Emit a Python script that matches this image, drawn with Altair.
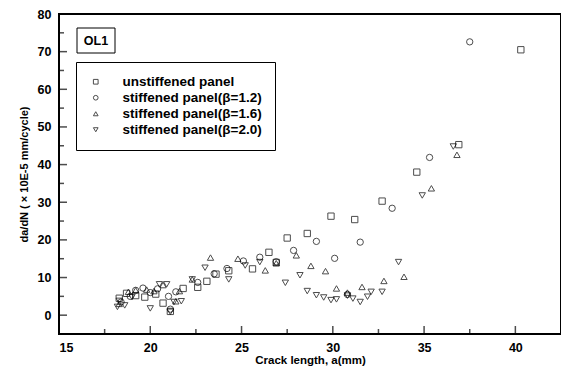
import altair as alt
import pandas as pd

series_names = ["unstiffened panel", "stiffened panel(β=1.2)",
                "stiffened panel(β=1.6)", "stiffened panel(β=2.0)"]
series_shapes = ["square", "circle", "triangle-up", "triangle-down"]

unstiff_x = [18.3, 18.7, 19.2, 19.7, 20.3, 20.7, 21.1, 21.8, 22.6, 23.1, 23.6, 24.3,
             25.6, 26.5, 26.9, 27.5, 28.6, 29.9, 31.2, 32.7, 34.6, 36.9, 40.3]
unstiff_y = [4.5, 5.8, 5.2, 4.8, 5.6, 3.2, 1.0, 7.1, 7.4, 9.0, 10.9, 11.8,
             12.3, 16.7, 14.0, 20.5, 21.7, 26.3, 25.4, 30.3, 38.0, 45.3, 70.5]

b12_x = [18.4, 18.9, 19.2, 19.6, 20.0, 20.4, 21.0, 21.1, 21.4, 22.6, 23.5, 24.2,
         25.1, 26.0, 26.9, 27.85, 29.1, 30.1, 30.8, 31.5, 33.25, 35.3, 37.5]
b12_y = [3.5, 5.0, 6.6, 7.2, 6.0, 7.0, 5.0, 1.6, 6.2, 8.7, 11.0, 12.4,
         14.4, 15.4, 14.2, 17.2, 19.6, 15.1, 5.5, 19.4, 28.4, 41.9, 72.6]

b16_x = [18.3, 18.8, 19.2, 19.8, 20.2, 20.7, 21.4, 21.6, 22.3, 23.3, 24.8, 26.3,
         26.9, 28.0, 28.8, 29.6, 30.2, 30.8, 31.6, 32.8, 33.9, 35.4, 36.8]
b16_y = [3.0, 6.2, 6.6, 6.8, 6.4, 8.0, 3.7, 6.4, 9.5, 15.3, 15.0, 11.9,
         13.8, 15.9, 13.1, 11.7, 7.1, 6.0, 7.5, 9.1, 10.2, 33.7, 42.6]

b20_x = [18.2, 18.3, 18.6, 19.0, 20.0, 20.5, 20.9, 21.1, 21.3, 21.7, 22.3, 23.0,
         24.3, 25.2, 26.0, 27.4, 28.2, 28.6, 29.1, 29.5, 29.9, 30.2, 30.8, 31.1,
         31.5, 31.9, 32.1, 32.7, 33.6, 34.9, 36.6]
b20_y = [2.2, 3.8, 2.6, 4.8, 1.8, 8.2, 8.2, 0.9, 3.5, 3.7, 9.5, 12.6,
         9.5, 13.2, 14.1, 8.6, 10.6, 6.4, 5.3, 4.7, 4.0, 4.2, 5.2, 4.4,
         3.5, 4.9, 6.2, 6.2, 14.1, 31.8, 44.8]

x_major = [15, 20, 25, 30, 35, 40]
x_minor = [17.5, 22.5, 27.5, 32.5, 37.5]
y_major = [0, 10, 20, 30, 40, 50, 60, 70, 80]
y_minor = [5, 15, 25, 35, 45, 55, 65, 75]
x_edges = [15, 42.5]
y_edges = [-5, 80]

rows = []
for name, xs, ys in zip(series_names, [unstiff_x, b12_x, b16_x, b20_x],
                        [unstiff_y, b12_y, b16_y, b20_y]):
    rows += [{"series": name, "a": x, "rate": y} for x, y in zip(xs, ys)]
df = pd.DataFrame(rows)

W, H = 502, 320
FONT = "Liberation Sans"
x_scale = alt.Scale(domain=x_edges, nice=False, zero=False)
y_scale = alt.Scale(domain=y_edges, nice=False, zero=False)

x_axis = alt.Axis(values=x_major, title="Crack length, a(mm)", grid=False, domain=False,
                  ticks=False, tickSize=0, labelPadding=7, labelFontSize=12.5,
                  labelFontWeight="bold", labelFont=FONT, titleFont=FONT,
                  titleFontSize=11.5, titleFontWeight="bold", titlePadding=1,
                  labelColor="black", titleColor="black")
y_axis = alt.Axis(values=y_major, title="da/dN ( × 10E-5 mm/cycle)", grid=False, domain=False,
                  ticks=False, tickSize=0, labelPadding=8, labelFontSize=12.5,
                  labelFontWeight="bold", labelFont=FONT, titleFont=FONT,
                  titleFontSize=11, titleFontWeight="bold", titlePadding=8,
                  labelColor="black", titleColor="black")

points = alt.Chart(df).mark_point(filled=False, color="black", size=40, strokeWidth=1).encode(
    x=alt.X("a:Q", scale=x_scale, axis=x_axis),
    y=alt.Y("rate:Q", scale=y_scale, axis=y_axis),
    shape=alt.Shape("series:N",
                    scale=alt.Scale(domain=series_names, range=series_shapes),
                    legend=alt.Legend(title=None, orient="none", legendX=17, legendY=48,
                                      strokeColor="black", padding=13,
                                      fillColor="white",
                                      labelFont=FONT, labelFontSize=13.5, labelFontWeight="bold",
                                      labelColor="black", symbolSize=22,
                                      symbolStrokeColor="black", symbolStrokeWidth=1,
                                      symbolFillColor="transparent",
                                      rowPadding=1, labelOffset=20)),
)

ymaj = alt.Chart(pd.DataFrame({"rate": y_major})).mark_tick(
    color="black", thickness=1.5, size=8, orient="horizontal").encode(
    y=alt.Y("rate:Q", scale=y_scale, axis=y_axis), x=alt.value(4))
ymin = alt.Chart(pd.DataFrame({"rate": y_minor})).mark_tick(
    color="black", thickness=1.5, size=5, orient="horizontal").encode(
    y=alt.Y("rate:Q", scale=y_scale, axis=y_axis), x=alt.value(2.5))
xmaj = alt.Chart(pd.DataFrame({"a": x_major})).mark_tick(
    color="black", thickness=1.5, size=8, orient="vertical").encode(
    x=alt.X("a:Q", scale=x_scale, axis=x_axis), y=alt.value(H - 4))
xmin = alt.Chart(pd.DataFrame({"a": x_minor})).mark_tick(
    color="black", thickness=1.5, size=5, orient="vertical").encode(
    x=alt.X("a:Q", scale=x_scale, axis=x_axis), y=alt.value(H - 2.5))

frame = alt.Chart(pd.DataFrame({"a": [x_edges[0]], "a2": [x_edges[1]],
                                "rate": [y_edges[0]], "rate2": [y_edges[1]]})).mark_rect(
    fillOpacity=0, stroke="black", strokeWidth=2).encode(
    x=alt.X("a:Q", scale=x_scale, axis=x_axis), x2="a2:Q",
    y=alt.Y("rate:Q", scale=y_scale, axis=y_axis), y2="rate2:Q")

label_box = alt.Chart(pd.DataFrame({"t": ["OL1"]})).mark_rect(
    fill="white", stroke="black", strokeWidth=1).encode(
    x=alt.value(18), x2=alt.value(56), y=alt.value(14), y2=alt.value(39))
label_text = alt.Chart(pd.DataFrame({"t": ["OL1"]})).mark_text(
    font=FONT, fontSize=12.5, fontWeight="bold", color="black").encode(
    text="t:N", x=alt.value(37), y=alt.value(27))

chart = alt.layer(frame, ymaj, ymin, xmaj, xmin, points, label_box, label_text).properties(
    width=W, height=H,
    padding={"left": 51, "top": 6, "right": 0, "bottom": 32},
    autosize="none",
    background="white",
).configure_view(stroke="black", strokeWidth=2).configure_legend(strokeWidth=1)

chart.save("out.html", embed_options={"renderer": "svg", "actions": False})
